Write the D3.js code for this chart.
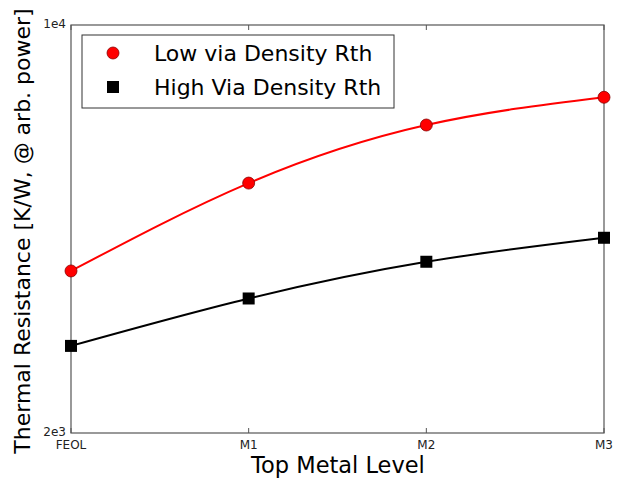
<!DOCTYPE html>
<html>
<head>
<meta charset="utf-8">
<script src="https://cdn.jsdelivr.net/npm/d3@7"></script>
<style>
  body { margin: 0; background: #fff; }
  text { font-family: 'DejaVu Sans', sans-serif; }
</style>
</head>
<body>
<script>
var levels = ['FEOL', 'M1', 'M2', 'M3'];
var lowVia = [3790, 5360, 6740, 7520];
var highVia = [2820, 3400, 3930, 4320];
var yTicks = [2000, 10000];
var yTickLabels = ['2e3', '1e4'];
var seriesNames = ['Low via Density Rth', 'High Via Density Rth'];

var W = 627, H = 483;
var plotL = 71, plotR = 604, plotT = 25, plotB = 433;

var svg = d3.select('body').append('svg')
  .attr('width', W)
  .attr('height', H);

var x = d3.scalePoint().domain(levels).range([plotL, plotR]);
var y = d3.scaleLog().domain([2000, 10000]).range([plotB, plotT]);

var AXIS = '#555';

// frame
svg.append('rect')
  .attr('x', plotL).attr('y', plotT)
  .attr('width', plotR - plotL).attr('height', plotB - plotT)
  .attr('fill', 'none')
  .attr('stroke', AXIS)
  .attr('stroke-width', 1.2);

// x ticks, inward top and bottom
svg.append('g').selectAll('line.xb')
    .data(levels)
  .enter().append('line')
    .attr('x1', function(d) { return x(d); })
    .attr('x2', function(d) { return x(d); })
    .attr('y1', plotB).attr('y2', plotB - 5)
    .attr('stroke', AXIS);
svg.append('g').selectAll('line.xt')
    .data(levels)
  .enter().append('line')
    .attr('x1', function(d) { return x(d); })
    .attr('x2', function(d) { return x(d); })
    .attr('y1', plotT).attr('y2', plotT + 5)
    .attr('stroke', AXIS);

svg.append('g').selectAll('text.xl')
    .data(levels)
  .enter().append('text')
    .attr('x', function(d) { return x(d); })
    .attr('y', plotB + 16)
    .attr('text-anchor', 'middle')
    .style('font-size', '12px')
    .style('fill', '#222')
    .text(function(d) { return d; });

svg.append('g').selectAll('text.yl')
    .data(yTicks)
  .enter().append('text')
    .attr('x', plotL - 5)
    .attr('y', function(d) { return y(d) + 3; })
    .attr('text-anchor', 'end')
    .style('font-size', '12px')
    .style('fill', '#222')
    .text(function(d, i) { return yTickLabels[i]; });

svg.append('text')
  .attr('x', 338)
  .attr('y', 473)
  .attr('text-anchor', 'middle')
  .style('font-size', '22.5px')
  .text('Top Metal Level');

svg.append('text')
  .attr('transform', 'translate(30,231) rotate(-90)')
  .attr('text-anchor', 'middle')
  .style('font-size', '22px')
  .text('Thermal Resistance [K/W, @ arb. power]');

var line = d3.line()
  .x(function(d, i) { return x(levels[i]); })
  .y(function(d) { return y(d); })
  .curve(d3.curveNatural);

var plot = svg.append('g');

plot.append('path')
  .datum(lowVia)
  .attr('d', line)
  .attr('fill', 'none')
  .attr('stroke', '#f00')
  .attr('stroke-width', 2);

plot.append('path')
  .datum(highVia)
  .attr('d', line)
  .attr('fill', 'none')
  .attr('stroke', '#000')
  .attr('stroke-width', 2);

plot.selectAll('circle.low')
    .data(lowVia)
  .enter().append('circle')
    .attr('cx', function(d, i) { return x(levels[i]); })
    .attr('cy', function(d) { return y(d); })
    .attr('r', 6)
    .attr('fill', '#f00')
    .attr('stroke', '#800')
    .attr('stroke-width', 0.8);

plot.selectAll('rect.high')
    .data(highVia)
  .enter().append('rect')
    .attr('x', function(d, i) { return x(levels[i]) - 6; })
    .attr('y', function(d) { return y(d) - 6; })
    .attr('width', 12)
    .attr('height', 12)
    .attr('fill', '#000');

// legend
var lg = svg.append('g');
lg.append('rect')
  .attr('x', 82).attr('y', 35)
  .attr('width', 312).attr('height', 73)
  .attr('fill', '#fff')
  .attr('stroke', '#333')
  .attr('stroke-width', 1);
lg.append('circle')
  .attr('cx', 113).attr('cy', 53).attr('r', 6)
  .attr('fill', '#f00').attr('stroke', '#800').attr('stroke-width', 0.8);
lg.append('rect')
  .attr('x', 107).attr('y', 81).attr('width', 12).attr('height', 12)
  .attr('fill', '#000');
lg.selectAll('text')
    .data(seriesNames)
  .enter().append('text')
    .attr('x', 154)
    .attr('y', function(d, i) { return 61 + i * 34; })
    .style('font-size', '22px')
    .text(function(d) { return d; });
</script>
</body>
</html>
